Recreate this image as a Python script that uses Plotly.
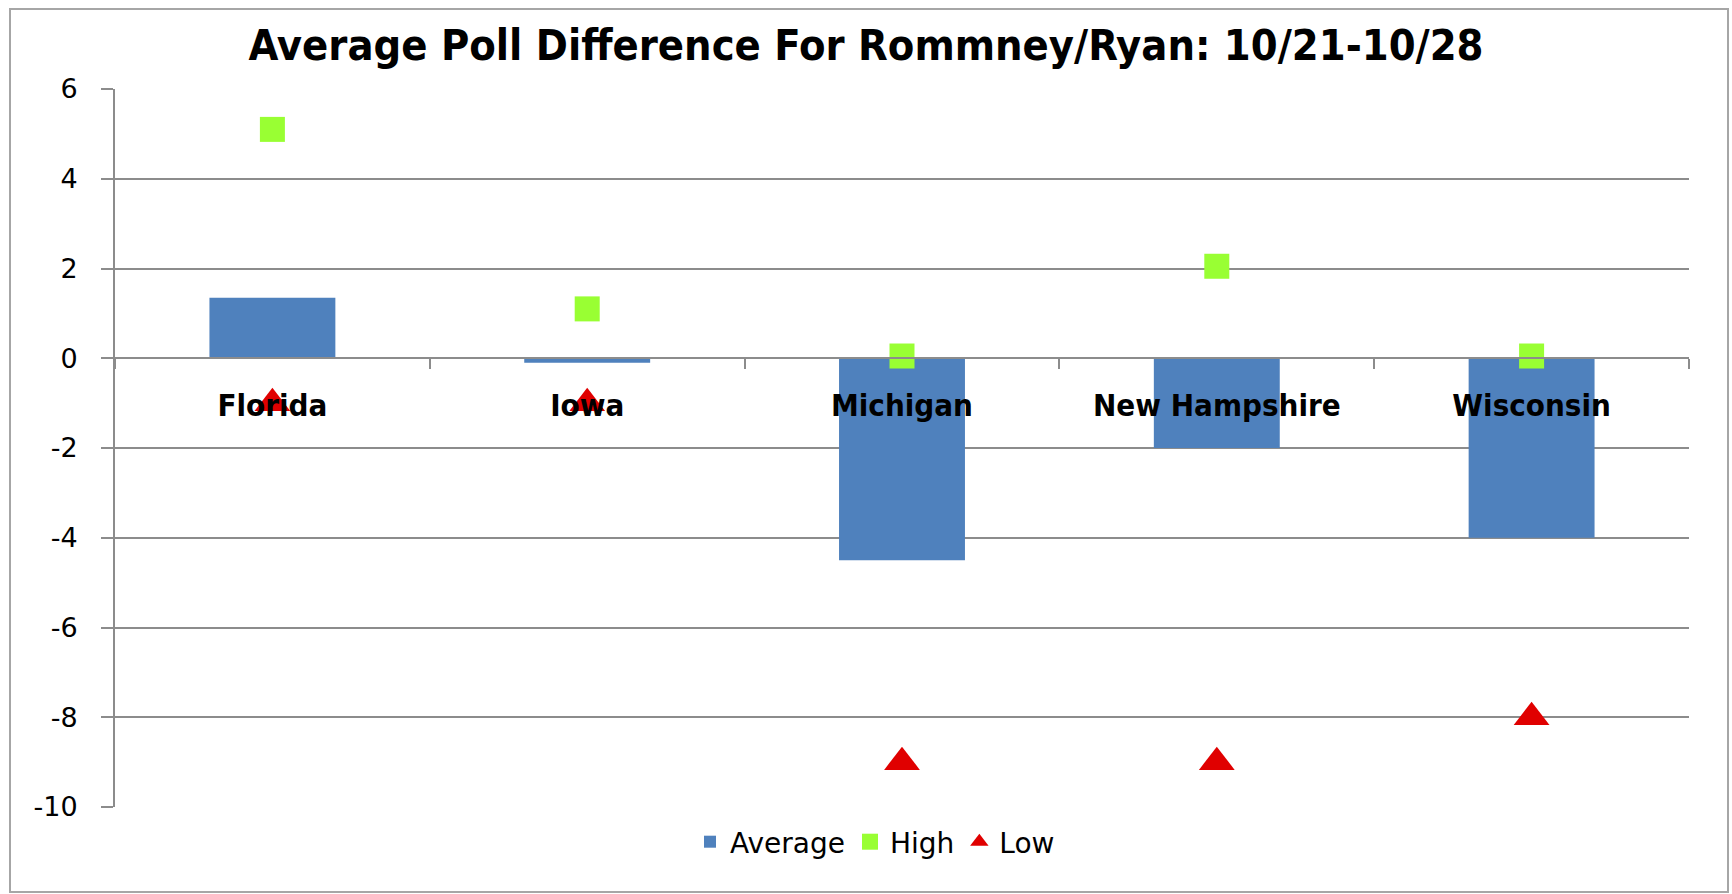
import plotly.graph_objects as go

states = ["Florida", "Iowa", "Michigan", "New Hampshire", "Wisconsin"]
average = [1.35, -0.1, -4.5, -2.0, -4.0]
high = [5.1, 1.1, 0.05, 2.05, 0.05]
low = [-1.0, -1.0, -9.0, -9.0, -8.0]
y_ticks = [6, 4, 2, 0, -2, -4, -6, -8, -10]

W, H = 1732, 894
L, R, T, B = 115, 43, 89, 87
plot_h = H - T - B
plot_w = W - L - R

grid_col = "#8c8c8c"
tick_font = dict(family="DejaVu Sans, Verdana, sans-serif", size=27, color="#000000")

fig = go.Figure()
fig.add_trace(go.Bar(x=states, y=average, name="Average",
                     marker=dict(color="#4f81bd", line=dict(width=0))))
fig.add_trace(go.Scatter(x=states, y=high, name="High", mode="markers",
                         marker=dict(symbol="square", size=25, color="#99ff33")))
fig.add_trace(go.Scatter(x=states, y=low, name="Low", mode="markers",
                         marker=dict(symbol="triangle-up", size=31, color="#e00000")))

ymin, ymax = min(y_ticks), max(y_ticks)
zero_pos = (0 - ymin) / (ymax - ymin)

fig.update_layout(
    width=W, height=H,
    margin=dict(l=L, r=R, t=T, b=B),
    paper_bgcolor="#ffffff", plot_bgcolor="#ffffff",
    bargap=0.6,
    showlegend=True,
    title=dict(text="Average Poll Difference For Rommney/Ryan: 10/21-10/28",
               x=0.5, xanchor="center", xref="container",
               y=1 - 45 / H, yanchor="middle", yref="container",
               font=dict(family="DejaVu Sans Condensed, DejaVu Sans, sans-serif",
                         size=43, color="#000000", weight="bold")),
    legend=dict(orientation="h", x=(875 - L) / plot_w, xanchor="center",
                y=(807 - 842) / plot_h, yanchor="middle",
                font=dict(family="DejaVu Sans, Verdana, sans-serif", size=28, color="#000000"),
                bgcolor="rgba(0,0,0,0)", itemsizing="trace"),
    xaxis=dict(type="category", anchor="free", position=zero_pos,
               showline=True, linecolor=grid_col, linewidth=2,
               ticks="outside", tickson="boundaries", ticklen=10, tickcolor=grid_col, tickwidth=2,
               showgrid=False, ticklabelstandoff=20,
               tickfont=dict(family="DejaVu Sans Condensed, DejaVu Sans, sans-serif",
                             size=31, color="#000000", weight="bold"),
               fixedrange=True),
    yaxis=dict(range=[ymin, ymax], tickvals=y_ticks, ticktext=[str(v) for v in y_ticks],
               showline=True, linecolor=grid_col, linewidth=2,
               ticks="outside", ticklen=12, tickcolor=grid_col, tickwidth=2,
               showgrid=True, gridcolor=grid_col, gridwidth=2,
               zeroline=True, zerolinecolor=grid_col, zerolinewidth=2,
               ticklabelstandoff=18, tickfont=tick_font, fixedrange=True),
    shapes=[dict(type="rect", xref="paper", yref="paper",
                 x0=(10 - L) / plot_w, x1=(1728 - L) / plot_w,
                 y0=(H - B - 892) / plot_h, y1=(H - B - 9) / plot_h,
                 line=dict(color="#a6a6a6", width=2), fillcolor="rgba(0,0,0,0)",
                 layer="below")],
)

fig.write_html("out.html")
